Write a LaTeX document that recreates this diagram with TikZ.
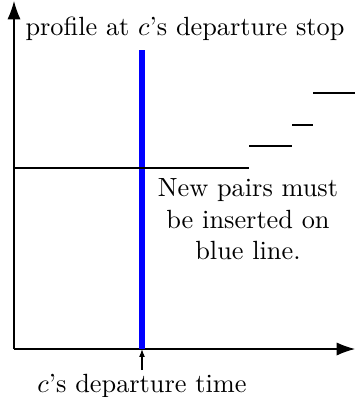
\documentclass[tikz,border=0pt]{standalone}
\usetikzlibrary{arrows.meta}
\begin{document}
\begin{tikzpicture}[x=0.38pt,y=-0.38pt,
  axis/.style={line width=0.4pt,-{Latex[length=7pt,width=5pt]}},
  prof/.style={line width=0.4pt},
  blueline/.style={blue,line width=2pt},
  lbl/.style={inner sep=0pt,font=\normalsize}]
\useasboundingbox (0,0) rectangle (355,397);
\coordinate (O) at (14,349);
\coordinate (Ytop) at (14,1);
\coordinate (Xend) at (355,349);
\draw[axis] (O) -- (Ytop);
\draw[axis] (O) -- (Xend);
\coordinate (Bt) at (142,50);
\coordinate (Bb) at (142,349);
\draw[blueline] (Bt) -- (Bb);
\coordinate (P0) at (14,168);
\coordinate (P1) at (249,168);
\coordinate (S1a) at (249,146);
\coordinate (S1b) at (292,146);
\coordinate (S2a) at (292,125);
\coordinate (S2b) at (313,125);
\coordinate (S3a) at (313,93);
\coordinate (S3b) at (355,93);
\draw[prof] (P0) -- (P1);
\draw[prof] (S1a) -- (S1b);
\draw[prof] (S2a) -- (S2b);
\draw[prof] (S3a) -- (S3b);
\node[lbl,anchor=base west] (ylab) at (25,35) {profile at $c$'s departure stop};
\node[lbl,anchor=base] (xlab) at (142,392) {$c$'s departure time};
\coordinate (Ta) at (142,370);
\draw[line width=0.4pt,-{Latex[length=3pt,width=2.2pt]}] (Ta) -- (Bb);
\node[lbl,align=center,anchor=north] (note) at (248,178) {New pairs must\\be inserted on\\blue line.};
\end{tikzpicture}
\end{document}
